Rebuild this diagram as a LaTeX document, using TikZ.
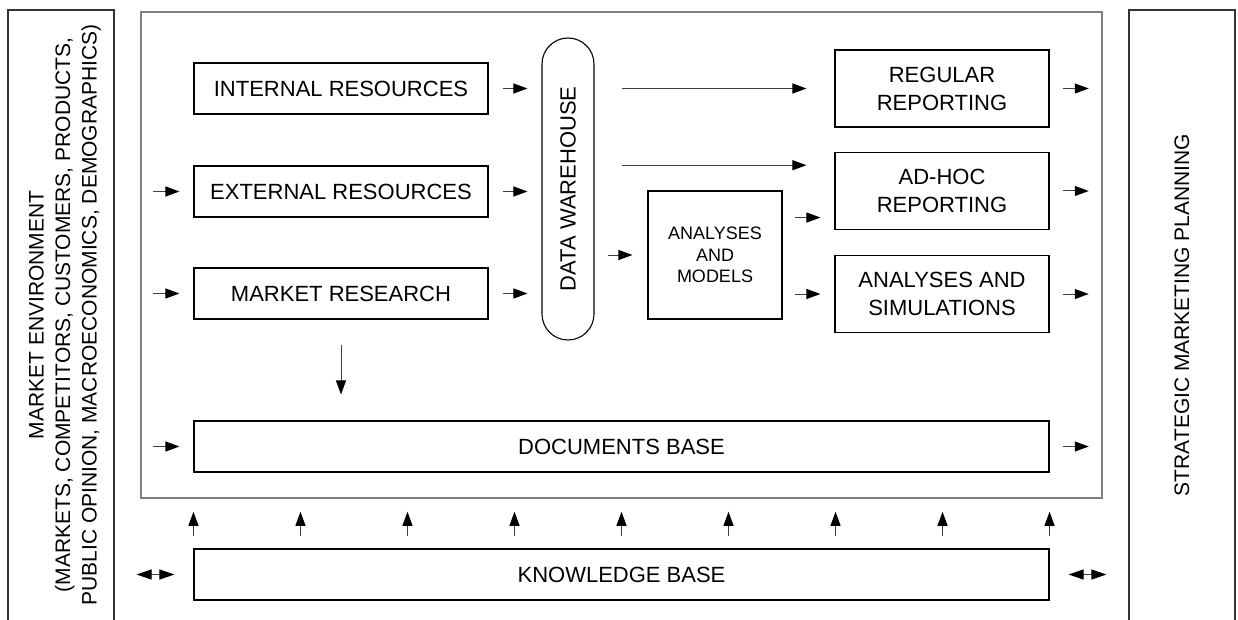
\documentclass[tikz,border=0pt]{standalone}
\usepackage{fontspec}
\setmainfont{Liberation Sans}
\usetikzlibrary{arrows.meta,calc}

\begin{document}
\begin{tikzpicture}[x=1pt,y=-1pt,
  txt/.style={font=\fontsize{22}{28}\selectfont, align=center, inner sep=0pt},
  sidetxt/.style={txt, font=\fontsize{21}{26.5}\selectfont, rotate=90},
  box/.style={txt, draw=black, line width=1.1pt, rectangle},
  smallbox/.style={box, font=\fontsize{18}{21.5}\selectfont},
  outer/.style={draw=black!80, line width=1.1pt, rectangle, inner sep=0pt,
    minimum width=106pt, minimum height=630pt},
  frame/.style={draw=black!50, line width=1.5pt, rectangle, inner sep=0pt},
  arr/.style={draw=black!75, line width=1pt,
    -{Triangle[length=14pt,width=10pt,color=black]}},
  darr/.style={draw=black!75, line width=1pt,
    {Triangle[length=15pt,width=10pt,color=black]}-{Triangle[length=15pt,width=10pt,color=black]}}
]
\useasboundingbox (0,0) rectangle (1238,620);
\clip (0,0) rectangle (1238,620);

% side panels (open at the bottom edge)
\node[outer] (envbox) at (61,325) {};
\node[sidetxt] (envtext) at (65,315)
  {MARKET ENVIRONMENT\\(MARKETS, COMPETITORS, CUSTOMERS, PRODUCTS,\\PUBLIC OPINION, MACROECONOMICS, DEMOGRAPHICS)};
\node[outer] (planbox) at (1182,325) {};
\node[sidetxt] (plantext) at (1182,315) {STRATEGIC MARKETING PLANNING};

% central frame
\node[frame, minimum width=961pt, minimum height=486pt] (frame) at (621.5,255) {};

% sources
\node[box, minimum width=294pt, minimum height=51pt] (int) at (341,88.5) {INTERNAL RESOURCES};
\node[box, minimum width=294pt, minimum height=51pt] (ext) at (341,191.5) {EXTERNAL RESOURCES};
\node[box, minimum width=294pt, minimum height=51pt] (mr)  at (341,293.5) {MARKET RESEARCH};

% data warehouse
\node[draw=black, line width=1.1pt, rounded corners=26pt, inner sep=0pt,
  minimum width=52pt, minimum height=302pt] (dw) at (568,189) {};
\node[txt, rotate=90] (dwtext) at (568,189) {DATA WAREHOUSE};

% analysis and reporting
\node[smallbox, minimum width=134pt, minimum height=128pt] (models) at (715,255) {ANALYSES\\AND\\MODELS};
\node[box, minimum width=214pt, minimum height=77pt] (reg)   at (942,88.5) {REGULAR\\REPORTING};
\node[box, minimum width=214pt, minimum height=77pt] (adhoc) at (942,191)  {AD-HOC\\REPORTING};
\node[box, minimum width=214pt, minimum height=77pt] (sim)   at (942,294)  {ANALYSES AND\\SIMULATIONS};

% bases
\node[box, minimum width=855pt, minimum height=51pt] (docs) at (621.5,446.5) {DOCUMENTS BASE};
\node[box, minimum width=855pt, minimum height=51pt] (kb)   at (621.5,574.5) {KNOWLEDGE BASE};

% inputs from the market environment
\foreach \n in {ext,mr,docs}
  \draw[arr, shorten <=13pt, shorten >=14pt] (frame.west |- \n.west) -- (\n.west);

% sources into the warehouse
\foreach \n in {int,ext,mr}
  \draw[arr, shorten <=14pt, shorten >=14pt] (\n.east) -- (\n.east -| dw.west);

% warehouse outputs
\coordinate (ahtop) at ($(adhoc.north west)!0.17!(adhoc.south west)$);
\coordinate (ahlow) at ($(adhoc.north west)!0.84!(adhoc.south west)$);
\draw[arr, shorten <=27pt, shorten >=28pt] (dw.east |- reg.west) -- (reg.west);
\draw[arr, shorten <=27pt, shorten >=28pt] (dw.east |- ahtop) -- (ahtop);
\draw[arr, shorten <=13pt, shorten >=15pt] (dw.east |- models.west) -- (models.west);
\draw[arr, shorten <=12pt, shorten >=14pt] (models.east |- ahlow) -- (ahlow);
\draw[arr, shorten <=12pt, shorten >=14pt] (models.east |- sim.west) -- (sim.west);

% outputs to strategic planning
\foreach \n in {reg,adhoc,sim,docs}
  \draw[arr, shorten <=13pt, shorten >=14pt] (\n.east) -- (\n.east -| frame.east);

% market research into documents base
\draw[arr, shorten <=25pt, shorten >=26pt] (mr.south) -- (mr.south |- docs.north);

% knowledge base feeding the frame
\foreach \i in {0,...,8} {
  \coordinate (up\i) at ($(kb.north west)!\i/8!(kb.north east)$);
  \draw[arr, shorten <=12pt, shorten >=13pt] (up\i) -- (up\i |- frame.south);
}

% knowledge exchange with both sides
\draw[darr, shorten <=22pt, shorten >=19pt] (envbox.east |- kb.west) -- (kb.west);
\draw[darr, shorten <=19pt, shorten >=22pt] (kb.east) -- (kb.east -| planbox.west);
\end{tikzpicture}
\end{document}
